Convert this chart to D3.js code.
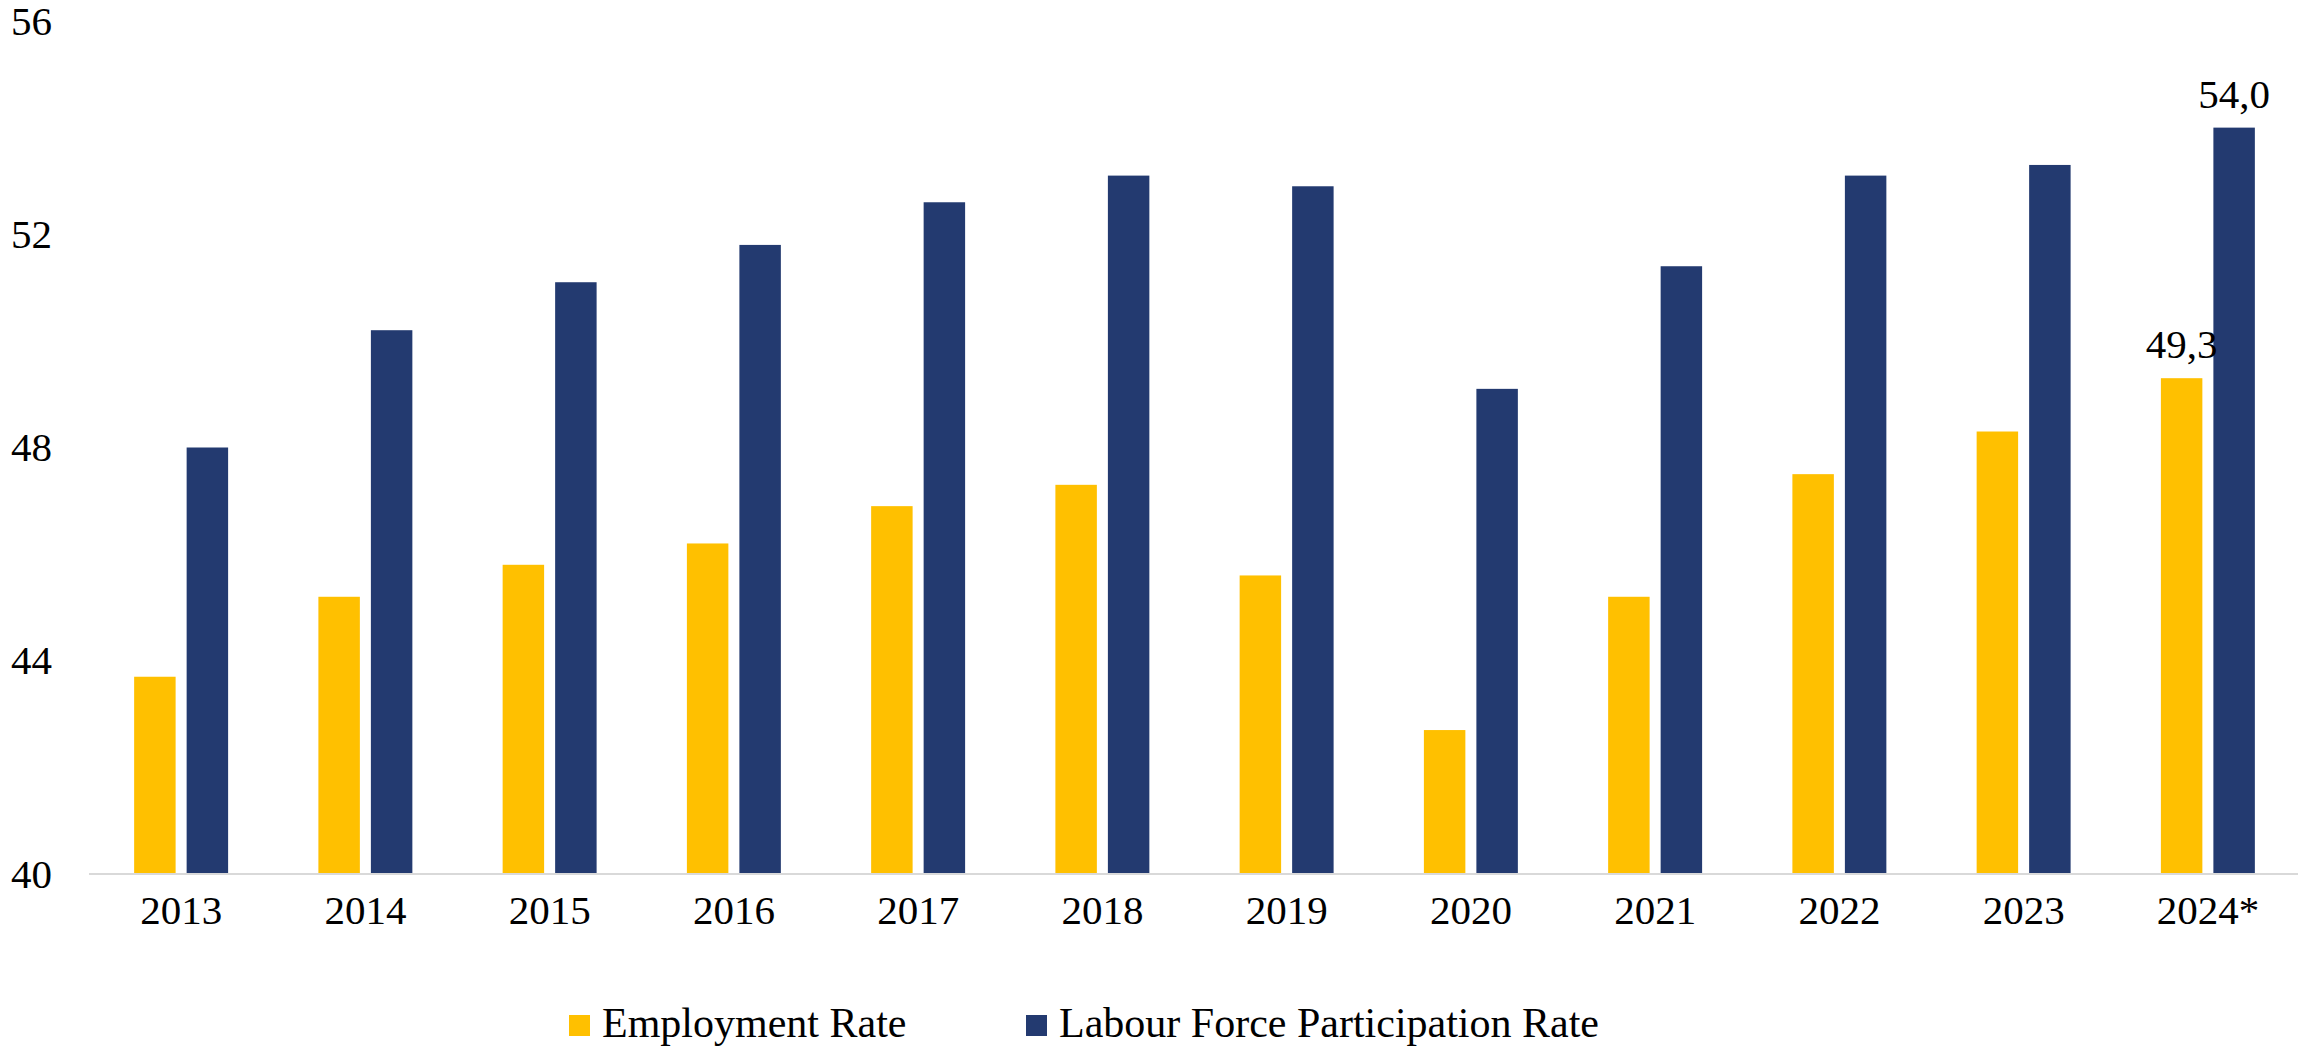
<!DOCTYPE html>
<html>
<head>
<meta charset="utf-8">
<script src="https://cdn.jsdelivr.net/npm/d3@7"></script>
<style>
  body { margin: 0; background: #fff; }
  svg text { font-family: "Liberation Serif", serif; fill: #000; }
</style>
</head>
<body>
<div id="chart"></div>
<script>
const years = ["2013", "2014", "2015", "2016", "2017", "2018", "2019", "2020", "2021", "2022", "2023", "2024*"];
const employmentRate = [43.7, 45.2, 45.8, 46.2, 46.9, 47.3, 45.6, 42.7, 45.2, 47.5, 48.3, 49.3];
const participationRate = [48.0, 50.2, 51.1, 51.8, 52.6, 53.1, 52.9, 49.1, 51.4, 53.1, 53.3, 54.0];
const seriesNames = ["Employment Rate", "Labour Force Participation Rate"];
const yTicks = [40, 44, 48, 52, 56];

const width = 2298;
const height = 1048;
const colors = ["#FFC000", "#233A70"];

const series = [employmentRate, participationRate];
const rows = years.map((y, i) => ({ year: y, values: series.map(s => s[i]) }));

const svg = d3.select("#chart").append("svg")
    .attr("width", width)
    .attr("height", height);

// scales
const x0 = d3.scaleBand()
    .domain(years)
    .range([89, 2300])
    .paddingInner(0.49)
    .paddingOuter(0.245);

const x1 = d3.scaleBand()
    .domain(d3.range(series.length))
    .range([0, x0.bandwidth()])
    .paddingInner(0.21);

const y = d3.scaleLinear()
    .domain([40, 56])
    .range([874, 21]);

// y axis labels (no line)
svg.append("g")
    .attr("transform", "translate(52,0)")
    .call(d3.axisLeft(y).tickValues(yTicks).tickSize(0).tickPadding(0))
    .call(g => g.select(".domain").remove())
    .selectAll("text")
    .style("font-size", "41px")
    .attr("dy", "0.32em");

// bars
const groups = svg.append("g").selectAll("g")
    .data(rows)
    .join("g")
    .attr("transform", d => "translate(" + x0(d.year) + ",0)");

groups.selectAll("rect")
    .data(d => d.values.map((v, k) => ({ k, v })))
    .join("rect")
    .attr("x", d => x1(d.k))
    .attr("y", d => y(d.v))
    .attr("width", x1.bandwidth())
    .attr("height", d => y(40) - y(d.v))
    .attr("fill", d => colors[d.k]);

// x axis
svg.append("g")
    .attr("transform", "translate(0," + y(40) + ")")
    .call(d3.axisBottom(x0).tickSize(0).tickPadding(50))
    .call(g => g.select(".domain")
        .attr("stroke", "#d9d9d9")
        .attr("stroke-width", 2)
        .attr("d", "M89,0H2298"))
    .selectAll("text")
    .style("font-size", "41px")
    .attr("dy", "0");

// data labels on the last year only
const last = rows[rows.length - 1];
svg.append("g").selectAll("text")
    .data(last.values.map((v, k) => ({ k, v })))
    .join("text")
    .attr("x", d => x0(last.year) + x1(d.k) + x1.bandwidth() / 2)
    .attr("y", d => y(d.v) - 20)
    .attr("text-anchor", "middle")
    .style("font-size", "41px")
    .text(d => d.v.toFixed(1).replace(".", ","));

// legend
const legendX = [569, 1026];
const legend = svg.append("g").selectAll("g")
    .data(seriesNames)
    .join("g")
    .attr("transform", (d, i) => "translate(" + legendX[i] + ",1015)");

legend.append("rect")
    .attr("width", 21)
    .attr("height", 21)
    .attr("fill", (d, i) => colors[i]);

legend.append("text")
    .attr("x", 33)
    .attr("y", 22)
    .style("font-size", "42px")
    .text(d => d);
</script>
</body>
</html>
